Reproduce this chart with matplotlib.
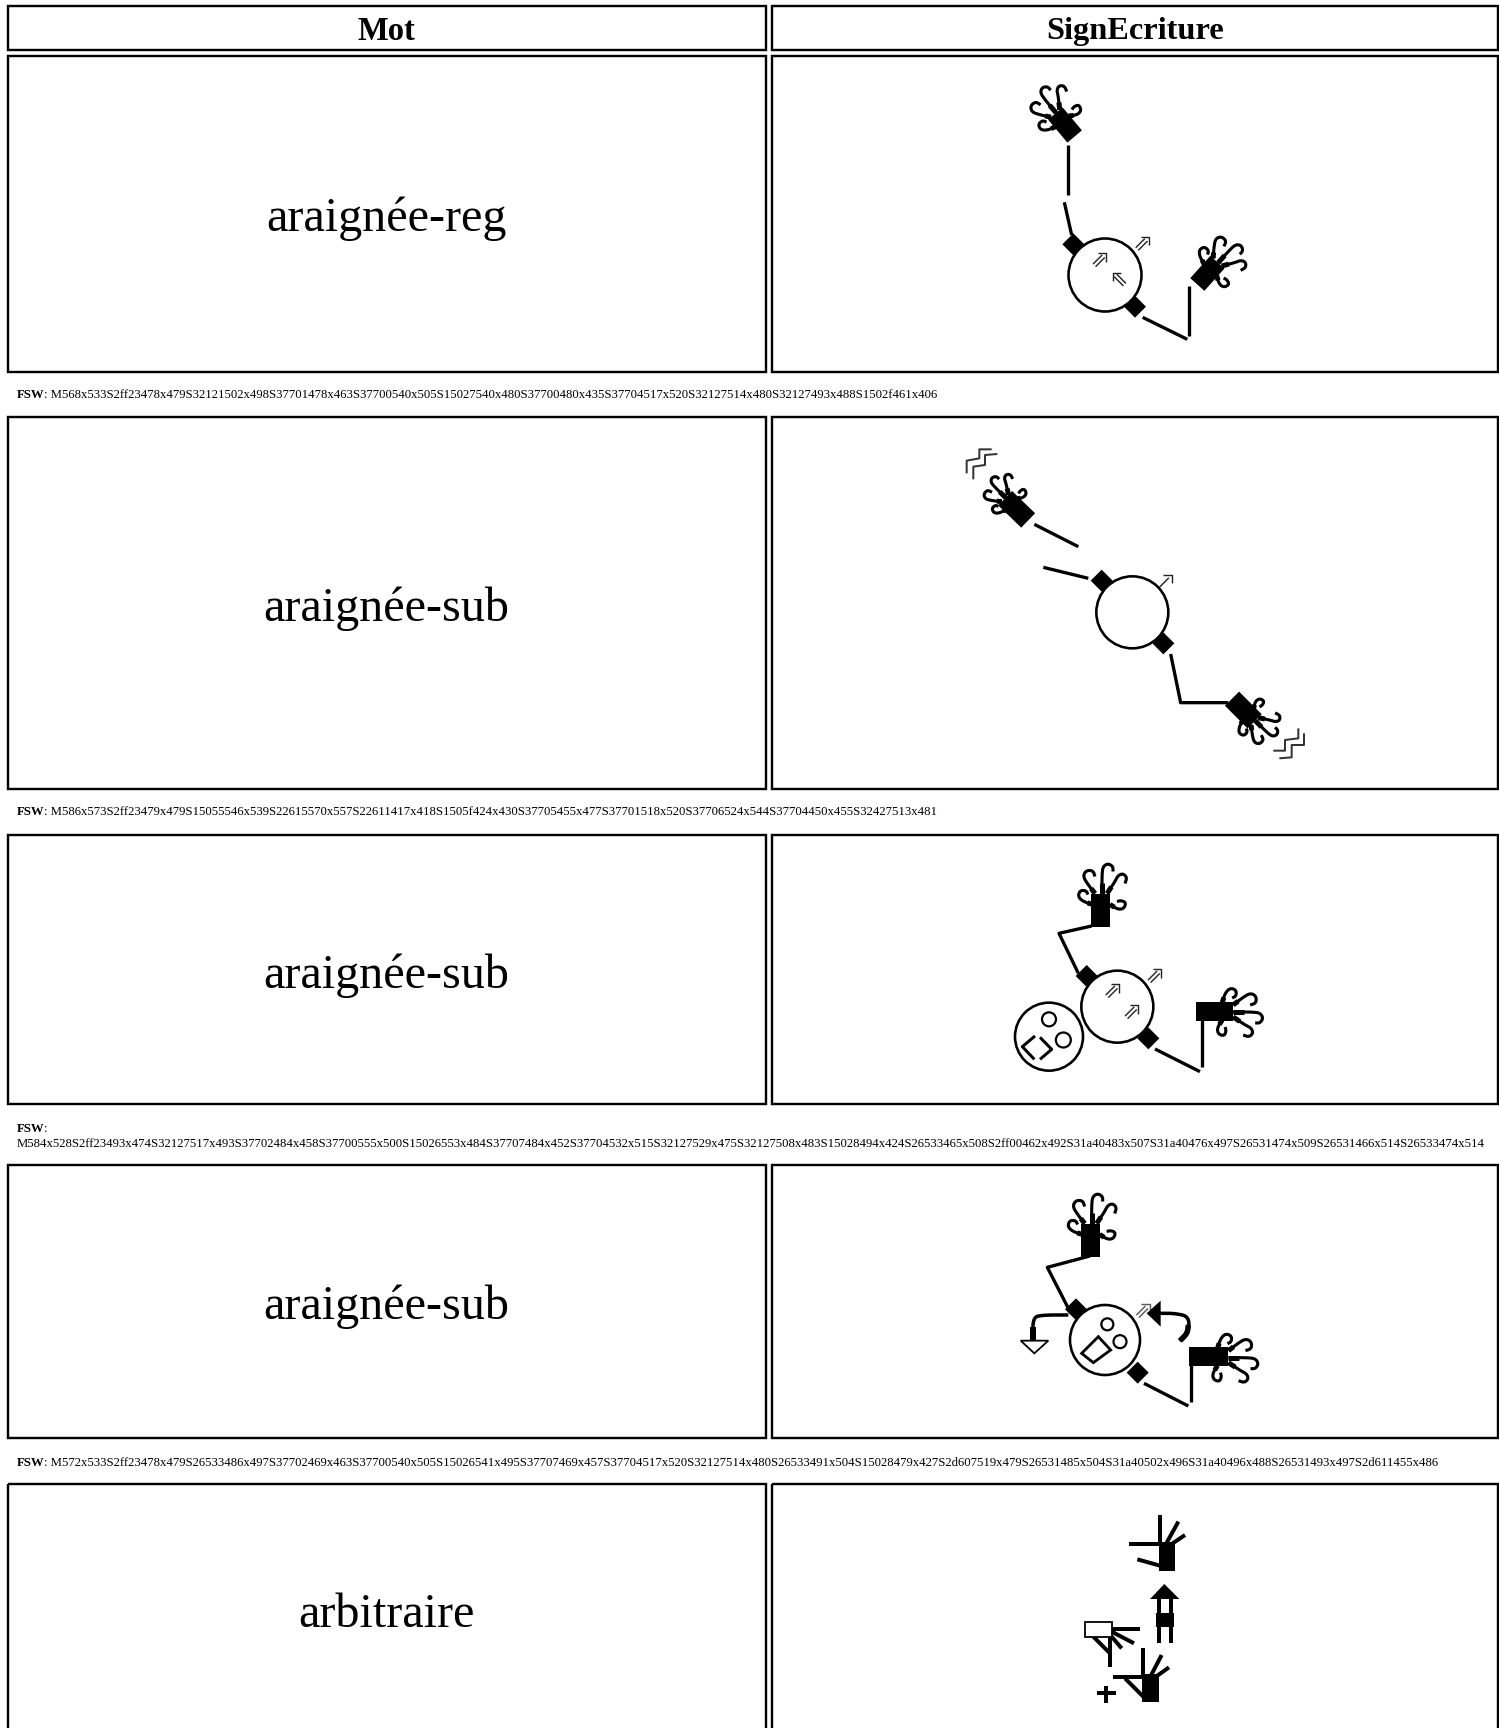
import numpy as np
import matplotlib
matplotlib.use("Agg")
import matplotlib.pyplot as plt
from matplotlib.patches import Rectangle, Polygon, Circle

W, H = 1499, 1728
HEADERS = ["Mot", "SignEcriture"]
WORDS = ["araignée-reg", "araignée-sub", "araignée-sub", "araignée-sub", "arbitraire"]
FSW = [
    "M568x533S2ff23478x479S32121502x498S37701478x463S37700540x505S15027540x480S37700480x435S37704517x520S32127514x480S32127493x488S1502f461x406",
    "M586x573S2ff23479x479S15055546x539S22615570x557S22611417x418S1505f424x430S37705455x477S37701518x520S37706524x544S37704450x455S32427513x481",
    "M584x528S2ff23493x474S32127517x493S37702484x458S37700555x500S15026553x484S37707484x452S37704532x515S32127529x475S32127508x483S15028494x424S26533465x508S2ff00462x492S31a40483x507S31a40476x497S26531474x509S26531466x514S26533474x514",
    "M572x533S2ff23478x479S26533486x497S37702469x463S37700540x505S15026541x495S37707469x457S37704517x520S32127514x480S26533491x504S15028479x427S2d607519x479S26531485x504S31a40502x496S31a40496x488S26531493x497S2d611455x486",
]
ROW_TOPS = [56, 417, 835, 1165, 1484]
ROW_BOTS = [372, 789, 1104, 1438, 1760]
WORD_Y = [219, 608.5, 975.5, 1307, 1615]
FSW_Y = [395.5, 812, 1129, 1462.5]
SERIF = "Liberation Serif"

fig = plt.figure(figsize=(W / 100, H / 100), dpi=100, facecolor="white")
ax = fig.add_axes([0, 0, 1, 1])
ax.set_xlim(0, W)
ax.set_ylim(H, 0)
ax.axis("off")
PX = 0.72


def cell(x0, y0, x1, y1):
    ax.add_patch(Rectangle((x0, y0), x1 - x0, y1 - y0, fill=False, ec="black", lw=2.4 * PX))


def line(pts, lw=3.3, color="black", z=3):
    a = np.array(pts, float)
    ax.plot(a[:, 0], a[:, 1], color=color, lw=lw * PX, solid_capstyle="butt", solid_joinstyle="round", zorder=z)


def smooth(pts, n=2):
    a = np.array(pts, float)
    for _ in range(n):
        q = a[:-1] * 0.75 + a[1:] * 0.25
        r = a[:-1] * 0.25 + a[1:] * 0.75
        m = np.empty((q.shape[0] * 2, 2))
        m[0::2] = q
        m[1::2] = r
        a = np.vstack([a[:1], m, a[-1:]])
    return a


def rot(p, deg):
    t = np.radians(deg)
    p = np.asarray(p, float)
    return np.column_stack([p[:, 0] * np.cos(t) + p[:, 1] * np.sin(t), -p[:, 0] * np.sin(t) + p[:, 1] * np.cos(t)])


FINGERS = [
    [(-6, -16), (-13, -25), (-18, -33), (-15, -39), (-8, -39), (-6, -33)],
    [(1, -16), (1, -35), (2, -43), (7, -46), (12, -43), (12, -38)],
    [(6, -16), (14, -28), (17, -34), (22, -36), (26, -32), (24, -26)],
    [(9, -5), (17, 0), (23, -1), (25, -7), (20, -9), (16, -8)],
    [(-8, -5), (-18, -8), (-23, -13), (-21, -19), (-15, -19), (-13, -15)],
]


def hand(cx, cy, deg, L=33, w=19, s=1.0, mirror=False):
    c = np.array([cx, cy])
    palm = np.array([(-w / 2, -L / 2), (w / 2, -L / 2), (w / 2, L / 2), (-w / 2, L / 2)])
    ax.add_patch(Polygon(rot(palm, deg) + c, fc="black", ec="none", zorder=3))
    for f in FINGERS:
        p = np.array(f, float)
        p[:, 0] *= s
        p[:, 1] = (p[:, 1] + 16) * s - L / 2
        if mirror:
            p[:, 0] *= -1
        stub = rot(p[:2] * [1, 1], deg) + c
        mid = stub[0] + (stub[1] - stub[0]) * 0.55
        line([stub[0], mid], lw=5)
        line(rot(smooth(p), deg) + c, lw=3.1)


def diamond(cx, cy, r=11):
    ax.add_patch(Polygon([(cx - r, cy), (cx, cy - r), (cx + r, cy), (cx, cy + r)], fc="black", ec="none", zorder=4))


def ring(cx, cy, r, lw=2.6):
    ax.add_patch(Circle((cx, cy), r, fc="none", ec="black", lw=lw * PX, zorder=2))


def arrow(cx, cy, deg, double=True, color="#222222"):
    rot_head = rot(np.array([(-6, -2), (0, -8), (6, -2)], float), deg) + [cx, cy]
    line(rot_head, lw=1.4, color=color)
    xs = (-1.8, 1.8) if double else (0,)
    for x in xs:
        line(rot(np.array([(x, -4), (x, 9)], float), deg) + [cx, cy], lw=1.4, color=color)


# table frame -------------------------------------------------------------
cell(8, 6, 766, 50)
cell(772, 6, 1498, 50)
ax.text(386.5, 32, HEADERS[0], ha="center", va="center", family=SERIF, weight="bold", fontsize=23.5)
ax.text(1135, 32, HEADERS[1], ha="center", va="center", family=SERIF, weight="bold", fontsize=23.3)
for t, b, word, wy in zip(ROW_TOPS, ROW_BOTS, WORDS, WORD_Y):
    cell(8, t, 766, b)
    cell(772, t, 1498, b)
    ax.text(386.5, wy, word, ha="center", va="center", family=SERIF, fontsize=34.7)

for i, (y, code) in enumerate(zip(FSW_Y, FSW)):
    ax.text(17, y, "FSW", ha="left", va="center", family=SERIF, weight="bold", fontsize=9.23)
    if i == 2:
        ax.text(44, y, ":", ha="left", va="center", family=SERIF, fontsize=9.23)
        ax.text(17, y + 15, code, ha="left", va="center", family=SERIF, fontsize=9.23)
    else:
        ax.text(44, y, ": " + code, ha="left", va="center", family=SERIF, fontsize=9.23)

# row 1 -------------------------------------------------------------------
def Z1(x, y):
    return (950 + x / 3, 60 + y / 3)

hand(*Z1(345, 195), 40, L=30, w=19, s=0.95)
line([Z1(355, 255), Z1(355, 405)])
line([Z1(343, 427), Z1(365, 525)])
diamond(*Z1(370, 553))
ring(*Z1(465, 645), 36.5)
diamond(*Z1(555, 740))
line([Z1(578, 772), Z1(712, 838)])
line([Z1(716, 678), Z1(716, 828)])
hand(*Z1(772, 640), -42, L=30, w=19, s=0.95)
arrow(*Z1(452, 597), -45)
arrow(*Z1(505, 655), 45)
arrow(*Z1(580, 548), -45)

# row 2 -------------------------------------------------------------------
def Z2(x, y):
    return (920 + x / 3, 430 + y / 3)

hand(*Z2(290, 238), 46, L=32, w=20, s=0.8)
hand(*Z2(970, 840), -135, L=32, w=20, s=0.85, mirror=True)
line([Z2(343, 283), Z2(475, 350)])
line([Z2(370, 412), Z2(505, 445)])
diamond(*Z2(545, 452))
ring(*Z2(637, 547), 36)
diamond(*Z2(730, 640))
line([Z2(752, 672), Z2(782, 818), Z2(925, 818)])
arrow(*Z2(738, 452), -45, double=False)
for zz in ([(140, 130), (140, 92), (178, 85), (178, 58), (215, 58)],
           [(160, 148), (160, 110), (195, 105), (195, 75), (232, 72)],
           [(1060, 962), (1095, 962), (1095, 930), (1135, 925), (1135, 895)],
           [(1078, 985), (1115, 982), (1115, 945), (1152, 945), (1152, 910)]):
    line([Z2(*p) for p in zz], lw=2, color="#333333")

# row 3 -------------------------------------------------------------------
def Z3(x, y):
    return (990 + x / 3, 850 + y / 3)

hand(*Z3(333, 180), 0)
line([Z3(305, 228), Z3(207, 250), Z3(265, 370)])
diamond(*Z3(290, 378))
ring(*Z3(382, 470), 36)
diamond(*Z3(475, 565))
line([Z3(495, 597), Z3(630, 665)])
line([Z3(635, 510), Z3(635, 652)])
hand(*Z3(674, 483), -90, L=37)
arrow(*Z3(370, 420), -45)
arrow(*Z3(428, 483), -45)
arrow(*Z3(497, 375), -45)
ring(*Z3(177, 560), 34)
ring(*Z3(177, 508), 7, lw=2.2)
ring(*Z3(220, 570), 7.5, lw=2.2)
line([Z3(135, 558), Z3(97, 590), Z3(133, 628)], lw=3)
line([Z3(150, 562), Z3(185, 598), Z3(150, 628)], lw=3)

# row 4 -------------------------------------------------------------------
def Z4(x, y):
    return (1000 + x / 3, 1180 + y / 3)

hand(*Z4(272, 180), 0)
line([Z4(270, 228), Z4(142, 262), Z4(205, 385)])
diamond(*Z4(228, 388))
ring(*Z4(315, 480), 35)
diamond(*Z4(413, 578))
line([Z4(432, 610), Z4(565, 678)])
line([Z4(572, 515), Z4(572, 665)])
hand(*Z4(627, 530), -90, L=39)
ring(*Z4(322, 433), 6, lw=2.2)
ring(*Z4(360, 485), 6.5, lw=2.2)
ax.add_patch(Polygon([Z4(245, 520), Z4(295, 470), Z4(332, 510), Z4(280, 548)], fc="none", ec="black", lw=2.8 * PX, zorder=3))
arrow(*Z4(432, 390), -45, color="#555555")
ax.add_patch(Polygon([Z4(482, 362), Z4(482, 440), Z4(440, 400)], fc="black", ec="none", zorder=4))
line(smooth([Z4(480, 400), Z4(525, 400), Z4(568, 410), Z4(565, 460), Z4(538, 482)], 3), lw=3.5)
line(smooth([Z4(565, 435), Z4(562, 460), Z4(540, 482)], 3), lw=5.5)
line(smooth([Z4(205, 405), Z4(130, 405), Z4(98, 412), Z4(100, 480)], 3), lw=3.5)
line([Z4(100, 440), Z4(100, 480)], lw=6)
ax.add_patch(Polygon([Z4(62, 482), Z4(145, 482), Z4(103, 520)], fc="white", ec="black", lw=1.8 * PX, zorder=4))

# row 5 -------------------------------------------------------------------
def Z5(x, y):
    return (1060 + x / 3, 1500 + y / 3)

def box(x0, y0, x1, y1):
    ax.add_patch(Polygon([Z5(x0, y0), Z5(x1, y0), Z5(x1, y1), Z5(x0, y1)], fc="black", ec="none", zorder=3))

THICK = 4
box(296, 125, 344, 212)
line([Z5(300, 45), Z5(300, 135)], lw=THICK)
line([Z5(208, 133), Z5(300, 133)], lw=THICK)
line([Z5(232, 178), Z5(300, 197)], lw=THICK)
line([Z5(318, 132), Z5(355, 65)], lw=THICK)
line([Z5(335, 132), Z5(375, 105)], lw=THICK)
ax.add_patch(Polygon([Z5(270, 297), Z5(358, 297), Z5(313, 252)], fc="black", ec="none", zorder=3))
line([Z5(297, 297), Z5(297, 430)], lw=THICK)
line([Z5(332, 297), Z5(332, 430)], lw=THICK)
box(288, 340, 342, 382)
ax.add_patch(Polygon([Z5(75, 367), Z5(155, 367), Z5(155, 410), Z5(75, 410)], fc="white", ec="black", lw=1.8 * PX, zorder=4))
line([Z5(155, 388), Z5(240, 388)], lw=THICK)
line([Z5(155, 395), Z5(222, 430)], lw=THICK)
line([Z5(155, 410), Z5(185, 445)], lw=THICK)
line([Z5(150, 410), Z5(150, 500)], lw=THICK)
line([Z5(100, 410), Z5(150, 460)], lw=THICK)
box(246, 522, 298, 605)
line([Z5(250, 445), Z5(250, 530)], lw=THICK)
line([Z5(158, 532), Z5(250, 532)], lw=THICK)
line([Z5(195, 535), Z5(250, 590)], lw=THICK)
line([Z5(270, 532), Z5(305, 465)], lw=THICK)
line([Z5(285, 532), Z5(327, 502)], lw=THICK)
line([Z5(110, 580), Z5(168, 580)], lw=THICK)
line([Z5(138, 558), Z5(138, 610)], lw=THICK)

fig.savefig("out.png", dpi=100, facecolor="white")
